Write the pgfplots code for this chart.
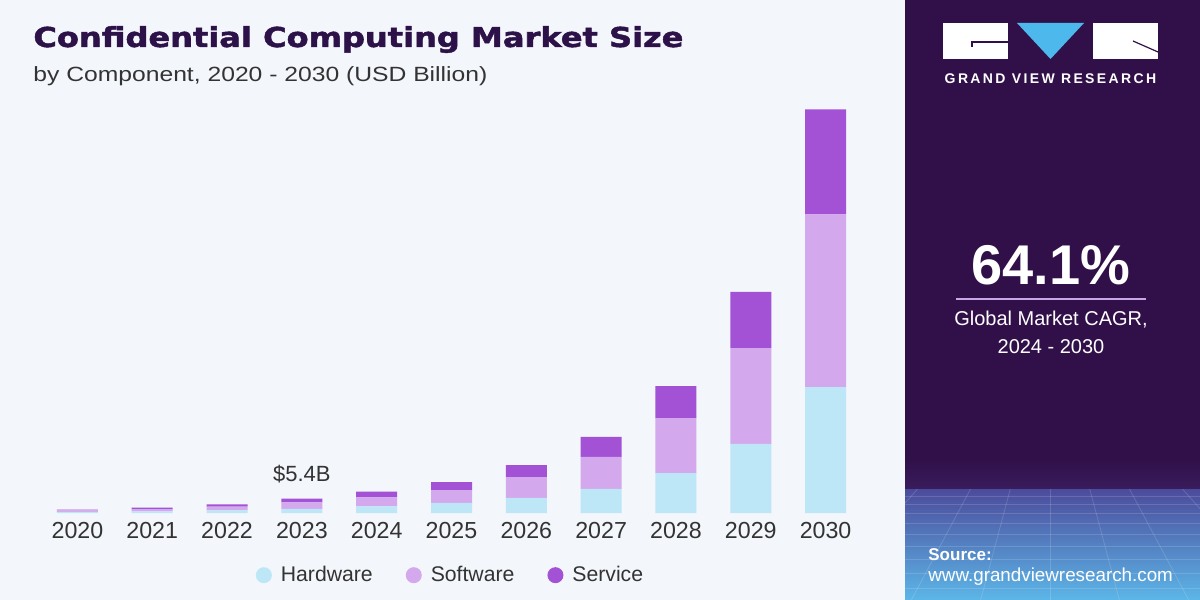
\documentclass[border=0pt]{standalone}
\usepackage{fontspec}
\setmainfont{Liberation Sans}
\newfontfamily\titlefont{DejaVu Sans}[BoldFeatures={FakeBold=1.6}]
\usepackage{pgfplots}
\pgfplotsset{compat=1.18}
\usepackage{graphicx}
\definecolor{bg}{HTML}{F3F6FA}
\definecolor{panel}{HTML}{31104A}
\definecolor{panelmid}{HTML}{3A1D5E}
\definecolor{panelblue}{HTML}{4C4C9C}
\definecolor{panellight}{HTML}{5CB6E8}
\definecolor{hw}{HTML}{BDE7F7}
\definecolor{sw}{HTML}{D3A8EC}
\definecolor{sv}{HTML}{A352D6}
\definecolor{titlec}{HTML}{2C1248}
\definecolor{txt}{HTML}{333333}
\definecolor{logoblue}{HTML}{4DB8EC}
\definecolor{lav}{HTML}{C9A6E6}

\pgfplotstableread{
x hw sw sv
0 0.40 0.55 0.35
1 0.60 0.90 0.50
2 1.00 1.40 0.90
3 1.60 2.40 1.40
4 2.50 3.40 2.20
5 3.80 4.90 3.00
6 5.70 7.90 4.50
7 9.10 12.1 7.60
8 15.1 20.8 12.1
9 26.1 36.3 21.2
10 47.6 65.4 39.7
}\datatable

\begin{document}
\begin{tikzpicture}[x=0.5pt,y=0.5pt]
\fill[bg] (0,0) rectangle (1200,600);
\fill[panel] (905,0) rectangle (1200,600);
\shade[top color=panel, bottom color=panelmid] (905,110) rectangle (1200,140);
\shade[top color=panelblue, bottom color=panellight] (905,0) rectangle (1200,110);
\begin{scope}
\clip (905,0) rectangle (1200,110);
\foreach \yy in {104,96,87,77,66,54,41,27,12} {\draw[white, opacity=0.15, line width=0.4pt] (905,\yy) -- (1200,\yy);}
\foreach \xx in {-600,-450,-300,-200,-120,-60,0,60,120,200,300,450,600} {\draw[white, opacity=0.15, line width=0.4pt] (1050,260) -- (1050+\xx*1.2,-10);}
\end{scope}
% logo
\fill[white] (943,541) rectangle (1008,577);
\fill[logoblue] (1017,577) -- (1084,577) -- (1050.5,541) -- cycle;
\fill[white] (1093,541) rectangle (1158,577);
\draw[panel, line width=0.6pt] (1008,558) -- (972,558) -- (972,553);
\draw[panel, line width=0.6pt] (1133,559) -- (1158,548);
\node[text=white, font={\fontspec{Liberation Sans}[LetterSpace=17]\bfseries\fontsize{7}{8}\selectfont}] at (1050.5,521) {GRAND VIEW RESEARCH};
% CAGR
\node[text=white, font=\bfseries\fontsize{28}{30}\selectfont] at (1051,335) {64.1\%};
\draw[lav, line width=1pt] (956,301) -- (1146,301);
\node[text=white, font=\fontsize{10}{12}\selectfont] at (1051,280) {Global Market CAGR,};
\node[text=white, font=\fontsize{10}{12}\selectfont] at (1051,253) {2024 - 2030};
% source
\node[text=white, anchor=west, inner sep=0pt, font=\bfseries\fontsize{8.5}{10}\selectfont] at (928,45) {Source:};
\node[text=white, anchor=west, inner sep=0pt, font=\fontsize{9.4}{11}\selectfont] at (928,23) {www.grandviewresearch.com};
% titles
\node[text=titlec, anchor=base west, inner sep=0pt] at (33,553) {\resizebox{325pt}{\height}{\titlefont\bfseries\fontsize{13.7}{15}\selectfont Confidential Computing Market Size}};
\node[text=txt, anchor=base west, inner sep=0pt] at (33,518) {\resizebox{227pt}{\height}{\fontsize{10.3}{12}\selectfont by Component, 2020 - 2030 (USD Billion)}};

\begin{axis}[
  at={(20pt,43.5pt)}, anchor=south west,
  scale only axis, width=411.5pt, height=211.5pt,
  xmin=-0.5, xmax=10.5, ymin=0, ymax=160,
  ybar stacked, bar width=20.5pt,
  clip=false,
  axis line style={draw=none},
  ytick=\empty,
  xtick={0,...,10},
  xticklabels={2020,2021,2022,2023,2024,2025,2026,2027,2028,2029,2030},
  major tick length=0pt,
  xticklabel style={font=\fontsize{11.6}{13}\selectfont, text=txt, yshift=-1pt},
  legend columns=3,
  legend image code/.code={\fill[#1] (0.25em,0pt) circle (4pt); \path (0.25em+6.5pt,0pt);},
  legend style={draw=none, fill=none, at={(0.5,-0.147)}, anchor=center,
    font=\fontsize{10.6}{13}\selectfont, text=txt,
    /tikz/every even column/.append style={column sep=14.5pt}},
]
\addplot[fill=hw, draw=none] table[x=x, y=hw] {\datatable};
\addlegendentry{Hardware}
\addplot[fill=sw, draw=none] table[x=x, y=sw] {\datatable};
\addlegendentry{Software}
\addplot[fill=sv, draw=none] table[x=x, y=sv] {\datatable};
\addlegendentry{Service}
\node[anchor=base, text=txt, font=\fontsize{11}{13}\selectfont] at (axis cs:3,5.4) [yshift=8.5pt] {\$5.4B};
\end{axis}
\end{tikzpicture}
\end{document}
